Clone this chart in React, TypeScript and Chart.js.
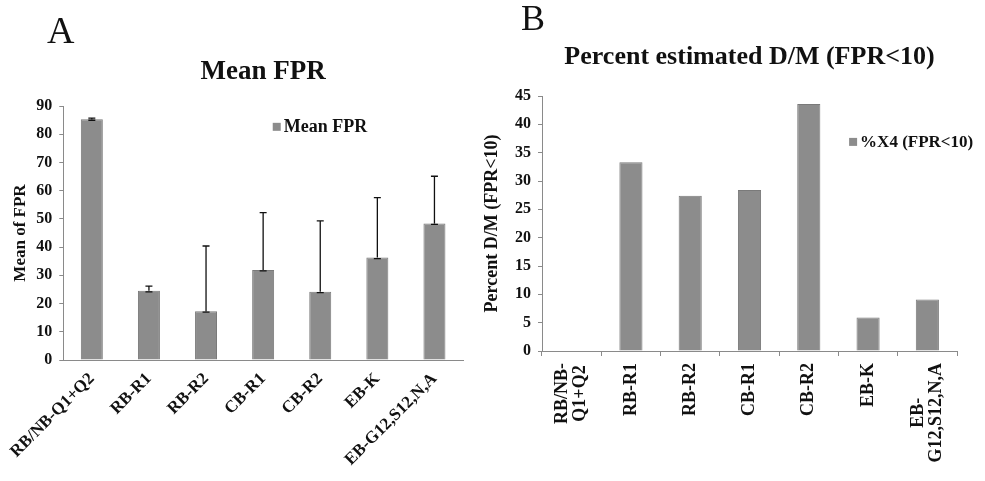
import React, { useEffect, useRef } from "react";
import { Chart, registerables } from "chart.js";

Chart.register(...registerables);

// ---------- Data ----------
const categoriesA = ["RB/NB-Q1+Q2", "RB-R1", "RB-R2", "CB-R1", "CB-R2", "EB-K", "EB-G12,S12,N,A"];
const meanFPR = [85.3, 24.5, 17.3, 31.9, 24.2, 36.3, 48.4];
const meanFPRError = [0.4, 1.7, 23.1, 20.3, 25.1, 21.2, 16.7];
const yTicksA = { min: 0, max: 90, step: 10 };

const categoriesB = [["RB/NB-", "Q1+Q2"], "RB-R1", "RB-R2", "CB-R1", "CB-R2", "EB-K", ["EB-", "G12,S12,N,A"]];
const pctX4 = [0, 33.3, 27.4, 28.4, 43.6, 5.9, 9.1];
const yTicksB = { min: 0, max: 45, step: 5 };

// ---------- Styles ----------
const SERIF = '"Liberation Serif", "Times New Roman", "DejaVu Serif", serif';
const BAR_FILL = "#8c8c8c";
const BAR_EDGE = "#7a7a7a";
const AXIS = "#8a8a8a";
const TEXT = "#111111";

const errorBarPlugin = {
  id: "errorBars",
  afterDatasetsDraw(chart: any, _args: any, opts: any) {
    const errs: number[] | undefined = opts && opts.errors;
    if (!errs) return;
    const meta = chart.getDatasetMeta(0);
    const yScale = chart.scales.y;
    const data = chart.data.datasets[0].data as number[];
    const ctx = chart.ctx;
    ctx.save();
    ctx.strokeStyle = "#111";
    ctx.lineWidth = 1.3;
    const cap = 3.5;
    meta.data.forEach((bar: any, i: number) => {
      const v = data[i];
      const x = bar.x;
      const yTop = yScale.getPixelForValue(v + errs[i]);
      const yBase = yScale.getPixelForValue(v);
      ctx.beginPath();
      ctx.moveTo(x, yBase);
      ctx.lineTo(x, yTop);
      ctx.moveTo(x - cap, yTop);
      ctx.lineTo(x + cap, yTop);
      ctx.moveTo(x - cap, yBase + 1);
      ctx.lineTo(x + cap, yBase + 1);
      ctx.stroke();
    });
    ctx.restore();
  },
};

const insideLegendPlugin = {
  id: "insideLegend",
  afterDraw(chart: any, _args: any, opts: any) {
    if (!opts || !opts.text) return;
    const { left, top, width, height } = chart.chartArea;
    const ctx = chart.ctx;
    const x = left + opts.fx * width;
    const y = top + opts.fy * height;
    const s = 8;
    ctx.save();
    ctx.fillStyle = BAR_FILL;
    ctx.fillRect(x, y - s / 2, s, s);
    ctx.fillStyle = TEXT;
    ctx.font = `bold ${opts.fontSize}px ${SERIF}`;
    ctx.textBaseline = "middle";
    ctx.textAlign = "left";
    ctx.fillText(opts.text, x + s + 3, y + 1);
    ctx.restore();
  },
};

// Vertical category labels whose lines are centred on each other
const centeredLabelsPlugin = {
  id: "centeredLabels",
  afterDraw(chart: any, _args: any, opts: any) {
    if (!opts || !opts.enabled) return;
    const xs = chart.scales.x;
    const ctx = chart.ctx;
    const labels = chart.data.labels as any[];
    ctx.save();
    ctx.font = `bold ${opts.fontSize}px ${SERIF}`;
    ctx.fillStyle = TEXT;
    ctx.textAlign = "center";
    ctx.textBaseline = "middle";
    const lh = opts.lineHeight;
    labels.forEach((lab: any, i: number) => {
      const lines: string[] = Array.isArray(lab) ? lab : [lab];
      const maxW = Math.max(...lines.map((l) => ctx.measureText(l).width));
      const x = xs.getPixelForTick(i);
      const y = xs.top + opts.offset;
      ctx.save();
      ctx.translate(x, y);
      ctx.rotate(-Math.PI / 2);
      const n = lines.length;
      lines.forEach((l, j) => {
        ctx.fillText(l, -maxW / 2, (j - (n - 1) / 2) * lh);
      });
      ctx.restore();
    });
    ctx.restore();
  },
};

function makeConfig(p: {
  labels: any[];
  data: number[];
  label: string;
  title: string;
  titleSize: number;
  titlePad: { top: number; bottom: number };
  yTitle: string;
  yTitleSize: number;
  yTitlePad: number;
  ticks: { min: number; max: number; step: number };
  xHeight: number;
  barPct: number;
  rotation: number;
  xTickLen: number;
  xDrawTicks: boolean;
  xPad: number;
  xFont: number;
  xLabelsBuiltIn: boolean;
  padRight: number;
  legend: any;
  centered?: any;
  errors?: number[];
}): any {
  return {
    type: "bar",
    data: {
      labels: p.labels,
      datasets: [
        {
          label: p.label,
          data: p.data,
          backgroundColor: BAR_FILL,
          borderColor: BAR_EDGE,
          borderWidth: 1,
          barPercentage: p.barPct,
          categoryPercentage: 1,
        },
      ],
    },
    options: {
      responsive: false,
      animation: false,
      layout: { padding: { left: 0, right: p.padRight, top: 0, bottom: 0 } },
      plugins: {
        legend: { display: false },
        tooltip: { enabled: false },
        title: {
          display: true,
          text: p.title,
          fullSize: false,
          color: TEXT,
          font: { family: SERIF, size: p.titleSize, weight: "bold" },
          padding: p.titlePad,
        },
        errorBars: { errors: p.errors },
        insideLegend: p.legend,
        centeredLabels: p.centered || { enabled: false },
      },
      scales: {
        x: {
          grid: {
            display: true,
            drawOnChartArea: false,
            drawTicks: p.xDrawTicks,
            tickLength: p.xTickLen,
            color: AXIS,
          },
          border: { display: true, color: AXIS, width: 1 },
          ticks: {
            display: p.xLabelsBuiltIn,
            color: TEXT,
            font: { family: SERIF, size: p.xFont, weight: "bold" },
            minRotation: p.rotation,
            maxRotation: p.rotation,
            autoSkip: false,
            padding: p.xPad,
          },
          afterFit(scale: any) {
            scale.height = p.xHeight;
          },
        },
        y: {
          min: p.ticks.min,
          max: p.ticks.max,
          grid: {
            display: true,
            drawOnChartArea: false,
            drawTicks: true,
            tickLength: 4,
            color: AXIS,
          },
          border: { display: true, color: AXIS, width: 1 },
          ticks: {
            stepSize: p.ticks.step,
            color: TEXT,
            font: { family: SERIF, size: 16, weight: "bold" },
            padding: 7,
          },
          title: {
            display: true,
            text: p.yTitle,
            color: TEXT,
            font: { family: SERIF, size: p.yTitleSize, weight: "bold" },
            padding: { top: p.yTitlePad, bottom: 0 },
          },
          afterFit(scale: any) {
            scale.width = 62;
          },
        },
      },
    },
    plugins: [errorBarPlugin, insideLegendPlugin, centeredLabelsPlugin],
  };
}

function ChartCanvas({ config, width, height }: { config: any; width: number; height: number }) {
  const ref = useRef<HTMLCanvasElement | null>(null);
  useEffect(() => {
    if (!ref.current) return;
    const chart = new Chart(ref.current, config);
    return () => chart.destroy();
  }, [config]);
  return <canvas ref={ref} width={width} height={height} style={{ display: "block", width, height }} />;
}

const configA = makeConfig({
  labels: categoriesA,
  data: meanFPR,
  label: "Mean FPR",
  title: "Mean FPR",
  titleSize: 27,
  titlePad: { top: 55.8, bottom: 17.8 },
  yTitle: "Mean of FPR",
  yTitleSize: 17,
  yTitlePad: 9.5,
  ticks: yTicksA,
  xHeight: 121,
  barPct: 0.385,
  rotation: 45,
  xTickLen: 0,
  xDrawTicks: false,
  xPad: 9,
  xFont: 17,
  xLabelsBuiltIn: true,
  padRight: 17,
  legend: { text: "Mean FPR", fx: 0.524, fy: 0.082, fontSize: 18 },
  errors: meanFPRError,
});

const configB = makeConfig({
  labels: categoriesB,
  data: pctX4,
  label: "%X4 (FPR<10)",
  title: "Percent estimated D/M (FPR<10)",
  titleSize: 26,
  titlePad: { top: 41.4, bottom: 23.4 },
  yTitle: "Percent D/M (FPR<10)",
  yTitleSize: 18,
  yTitlePad: 2,
  ticks: yTicksB,
  xHeight: 130,
  barPct: 0.39,
  rotation: 90,
  xTickLen: 5,
  xDrawTicks: true,
  xPad: 8,
  xFont: 18,
  xLabelsBuiltIn: false,
  padRight: 28,
  legend: { text: "%X4 (FPR<10)", fx: 0.74, fy: 0.18, fontSize: 17 },
  centered: { enabled: true, fontSize: 18, lineHeight: 18, offset: 12 },
});

export default function App() {
  return (
    <div
      style={{
        position: "fixed",
        left: 0,
        top: 0,
        width: 985,
        height: 481,
        background: "#ffffff",
        overflow: "hidden",
      }}
    >
      <div style={{ position: "absolute", left: 0, top: 0 }}>
        <ChartCanvas config={configA} width={480} height={481} />
      </div>
      <div style={{ position: "absolute", left: 480, top: 0 }}>
        <ChartCanvas config={configB} width={505} height={481} />
      </div>
      <div
        style={{
          position: "absolute",
          left: 47,
          top: 8,
          fontFamily: SERIF,
          fontSize: 38,
          lineHeight: "44px",
          color: TEXT,
        }}
      >
        A
      </div>
      <div
        style={{
          position: "absolute",
          left: 521,
          top: -3,
          fontFamily: SERIF,
          fontSize: 36,
          lineHeight: "42px",
          color: TEXT,
        }}
      >
        B
      </div>
    </div>
  );
}
